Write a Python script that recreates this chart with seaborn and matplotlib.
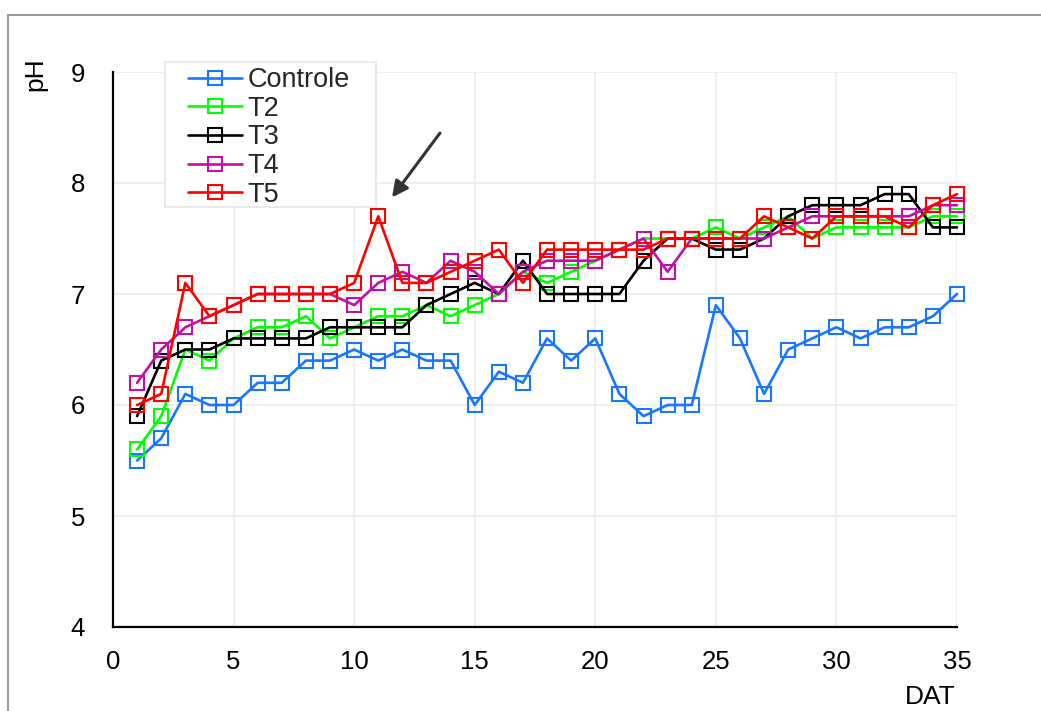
import numpy as np
import pandas as pd
import matplotlib
matplotlib.use("Agg")
import matplotlib.pyplot as plt
from matplotlib.patches import Rectangle
from matplotlib.ticker import MultipleLocator
import seaborn as sns

# Days after transplanting
dat = list(range(1, 36))

# pH readings per treatment
controle = [5.5, 5.7, 6.1, 6.0, 6.0, 6.2, 6.2, 6.4, 6.4, 6.5,
            6.4, 6.5, 6.4, 6.4, 6.0, 6.3, 6.2, 6.6, 6.4, 6.6,
            6.1, 5.9, 6.0, 6.0, 6.9, 6.6, 6.1, 6.5, 6.6, 6.7,
            6.6, 6.7, 6.7, 6.8, 7.0]
t2 = [5.6, 5.9, 6.5, 6.4, 6.6, 6.7, 6.7, 6.8, 6.6, 6.7,
      6.8, 6.8, 6.9, 6.8, 6.9, 7.0, 7.2, 7.1, 7.2, 7.3,
      7.4, 7.5, 7.5, 7.5, 7.6, 7.5, 7.6, 7.7, 7.5, 7.6,
      7.6, 7.6, 7.6, 7.7, 7.7]
t3 = [5.9, 6.4, 6.5, 6.5, 6.6, 6.6, 6.6, 6.6, 6.7, 6.7,
      6.7, 6.7, 6.9, 7.0, 7.1, 7.0, 7.3, 7.0, 7.0, 7.0,
      7.0, 7.3, 7.5, 7.5, 7.4, 7.4, 7.5, 7.7, 7.8, 7.8,
      7.8, 7.9, 7.9, 7.6, 7.6]
t4 = [6.2, 6.5, 6.7, 6.8, 6.9, 7.0, 7.0, 7.0, 7.0, 6.9,
      7.1, 7.2, 7.1, 7.3, 7.2, 7.0, 7.2, 7.3, 7.3, 7.3,
      7.4, 7.5, 7.2, 7.5, 7.5, 7.5, 7.5, 7.6, 7.7, 7.7,
      7.7, 7.7, 7.7, 7.8, 7.8]
t5 = [6.0, 6.1, 7.1, 6.8, 6.9, 7.0, 7.0, 7.0, 7.0, 7.1,
      7.7, 7.1, 7.1, 7.2, 7.3, 7.4, 7.1, 7.4, 7.4, 7.4,
      7.4, 7.4, 7.5, 7.5, 7.5, 7.5, 7.7, 7.6, 7.5, 7.7,
      7.7, 7.7, 7.6, 7.8, 7.9]

labels = ["Controle", "T2", "T3", "T4", "T5"]
series = [controle, t2, t3, t4, t5]
colors = ["#1976ff", "#00ff00", "#000000", "#c010a8", "#ff0000"]

x_ticks = [0, 5, 10, 15, 20, 25, 30, 35]
y_ticks = [4, 5, 6, 7, 8, 9]

sns.set_theme(style="white")
plt.rcParams["font.family"] = ["Liberation Sans", "DejaVu Sans"]

W, H = 1041, 711
fig = plt.figure(figsize=(W / 100, H / 100), dpi=100)
ax = fig.add_axes([113 / W, 1 - 627 / H, 844 / W, 555 / H])

for lab, vals, col in zip(labels, series, colors):
    df = pd.DataFrame({"DAT": dat, "pH": vals})
    sns.lineplot(data=df, x="DAT", y="pH", ax=ax, label=lab, color=col,
                 marker="s", markersize=10.5, markerfacecolor="none",
                 markeredgecolor=col, markeredgewidth=1.5, linewidth=1.9,
                 clip_on=False, zorder=3)

ax.set_xlim(0, 35)
ax.set_ylim(4, 9)
ax.set_xticks(x_ticks)
ax.set_yticks(y_ticks)
ax.xaxis.set_minor_locator(MultipleLocator(2.5))
ax.yaxis.set_minor_locator(MultipleLocator(0.5))
ax.grid(True, which="major", color="#ececec", linewidth=1.2, zorder=0)
ax.set_axisbelow(True)

for side in ("top", "right"):
    ax.spines[side].set_visible(False)
for side in ("left", "bottom"):
    ax.spines[side].set_color("black")
    ax.spines[side].set_linewidth(1.6)

ax.tick_params(axis="both", which="major", direction="in", length=6,
               width=1.5, color="black", labelsize=18.5, labelcolor="black")
ax.tick_params(axis="both", which="minor", direction="in", length=4,
               width=1.3, color="black")
ax.tick_params(axis="y", which="major", pad=20)
ax.tick_params(axis="x", which="major", pad=16.5)

ax.set_ylabel("pH", fontsize=19, rotation=90, color="black")
ax.yaxis.set_label_coords((35 - 113) / 844, (627 - 74) / 555)
ax.yaxis.label.set_ha("center")
ax.yaxis.label.set_va("center")
ax.set_xlabel("DAT", fontsize=19, color="black")
ax.xaxis.set_label_coords((930 - 113) / 844, (627 - 697) / 555)
ax.xaxis.label.set_ha("center")
ax.xaxis.label.set_va("center")

# Arrow pointing at the T5 peak on day 11
ax.annotate("", xy=(11.57, 7.87), xytext=(13.56, 8.45),
            arrowprops=dict(arrowstyle="-|>", color="#333333", lw=2.2,
                            mutation_scale=24, shrinkA=0, shrinkB=0))

# Legend box: white panel with a light border, entries placed inside
box = Rectangle((165 / W, 1 - 207 / H), 211 / W, 145 / H,
                transform=fig.transFigure, facecolor="white",
                edgecolor="#e6e6e6", linewidth=1.2, zorder=4, clip_on=False)
ax.add_patch(box)

leg = ax.legend(loc="upper left", bbox_to_anchor=(188 / W, 1 - 67 / H),
                bbox_transform=fig.transFigure, fontsize=19.5, frameon=False,
                borderpad=0, labelspacing=0.1, handlelength=2.0,
                handletextpad=0.2, borderaxespad=0, markerscale=0.9)
leg.set_zorder(5)

# Outer frame around the figure
fig.patches.append(Rectangle((8 / W, -0.2), 1.2, 1.2 - 15 / H,
                             transform=fig.transFigure, fill=False,
                             edgecolor="#999999", linewidth=1.4))

fig.savefig("out.png", dpi=100, facecolor="white")
